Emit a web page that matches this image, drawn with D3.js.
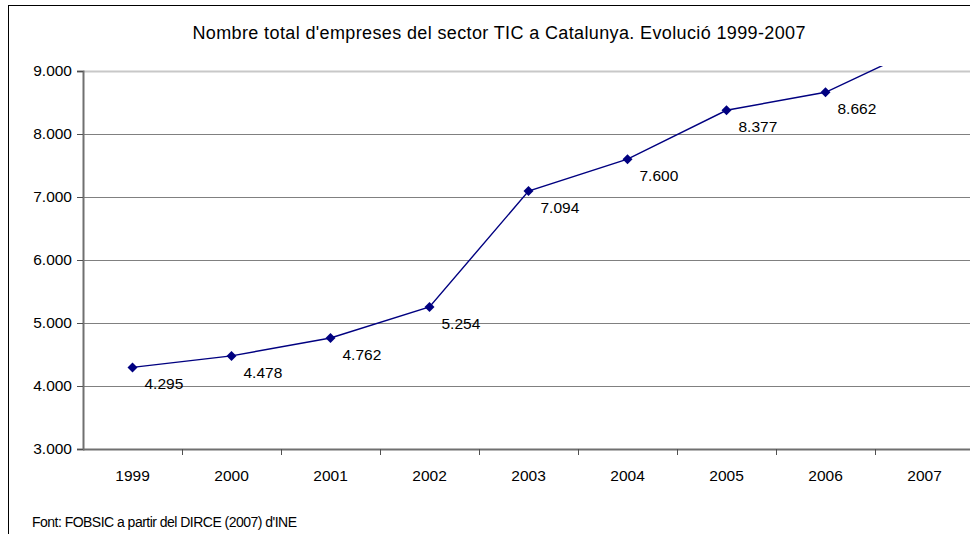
<!DOCTYPE html>
<html>
<head>
<meta charset="utf-8">
<script src="https://cdn.jsdelivr.net/npm/d3@7"></script>
<style>
  html, body { margin: 0; padding: 0; background: #fff; }
  svg { display: block; font-family: "Liberation Sans", Arial, sans-serif; }
</style>
</head>
<body>
<div class="chart"></div>
<script>
// data
const years = ['1999', '2000', '2001', '2002', '2003', '2004', '2005', '2006', '2007']
const empreses = [4295, 4478, 4762, 5254, 7094, 7600, 8377, 8662, 9400]
const yTicks = [3000, 4000, 5000, 6000, 7000, 8000, 9000]
const title = "Nombre total d'empreses del sector TIC a Catalunya. Evolució 1999-2007"
const font = "Font: FOBSIC a partir del DIRCE (2007) d'INE"

const width = 970, height = 534
const plot = {left: 83, right: 974, top: 71, bottom: 449}
const FF = '"Liberation Sans", Arial, sans-serif'

const loc = d3.formatLocale({decimal: ',', thousands: '.', grouping: [3], currency: ['', '']})
const fmt = loc.format(',')

const svg = d3.select('.chart')
  .append('svg')
    .attr('width', width)
    .attr('height', height)

// outer frame (only left and top edges are visible in the crop)
svg.append('rect')
  .attr('x', 8.5).attr('y', 5.5)
  .attr('width', width + 20).attr('height', height + 20)
  .style('fill', 'none')
  .style('stroke', '#000')

const x = d3.scaleBand()
  .domain(years)
  .range([plot.left, plot.right])

const y = d3.scaleLinear()
  .domain([3000, 9000])
  .range([plot.bottom, plot.top])

// gridlines
svg.append('g')
  .selectAll('line')
  .data(yTicks.filter(d => d > 3000))
  .enter()
  .append('line')
    .attr('x1', plot.left)
    .attr('x2', width)
    .attr('y1', d => Math.round(y(d)) + 0.5)
    .attr('y2', d => Math.round(y(d)) + 0.5)
    .style('stroke', d => d === 9000 ? '#c8c8c8' : '#808080')
    .style('stroke-width', d => d === 9000 ? 2 : 1.2)

// y axis
const yAxis = svg.append('g')
  .attr('transform', 'translate(' + plot.left + ',0)')
  .call(d3.axisLeft(y).tickValues(yTicks).tickFormat(fmt).tickSize(6).tickPadding(5))
yAxis.select('.domain').style('stroke', '#707070').style('stroke-width', 2)
yAxis.selectAll('.tick line').style('stroke', '#505050')
yAxis.selectAll('.tick text')
  .style('font-size', '15.5px')
  .style('fill', '#000')
  .style('font-family', FF)

// x axis
const xAxis = svg.append('g')
  .attr('transform', 'translate(0,' + plot.bottom + ')')
  .call(d3.axisBottom(x).tickSize(0).tickPadding(21))
xAxis.select('.domain').remove()
xAxis.selectAll('.tick text')
  .style('font-size', '15.5px')
  .style('fill', '#000')
  .style('font-family', FF)
xAxis.append('line')
  .attr('x1', plot.left).attr('x2', width)
  .attr('y1', 0.5).attr('y2', 0.5)
  .style('stroke', '#707070')
  .style('stroke-width', 2)
xAxis.selectAll('.bound')
  .data(years.slice(1))
  .enter()
  .append('line')
    .attr('class', 'bound')
    .attr('x1', d => Math.round(x(d)) + 0.5)
    .attr('x2', d => Math.round(x(d)) + 0.5)
    .attr('y1', 0)
    .attr('y2', 6)
    .style('stroke', '#505050')

// series, clipped a little above the top of the plot area
svg.append('clipPath')
  .attr('id', 'clip')
  .append('rect')
    .attr('x', plot.left)
    .attr('y', plot.top - 5)
    .attr('width', width - plot.left)
    .attr('height', plot.bottom - plot.top + 5)

const pts = years.map((d, i) => ({year: d, v: empreses[i]}))
const cx = d => x(d.year) + x.bandwidth() / 2

const series = svg.append('g').attr('clip-path', 'url(#clip)')

series.append('path')
  .datum(pts)
  .attr('d', d3.line().x(cx).y(d => y(d.v)))
  .style('fill', 'none')
  .style('stroke', '#000080')
  .style('stroke-width', 1.4)

series.selectAll('.pt')
  .data(pts)
  .enter()
  .append('path')
    .attr('class', 'pt')
    .attr('d', d3.symbol().type(d3.symbolDiamond2).size(64))
    .attr('transform', d => 'translate(' + cx(d) + ',' + y(d.v) + ')')
    .style('fill', '#000080')

// labels only for points inside the value axis
svg.selectAll('.lbl')
  .data(pts.filter(d => d.v <= 9000))
  .enter()
  .append('text')
    .attr('class', 'lbl')
    .attr('x', d => cx(d) + 12)
    .attr('y', d => y(d.v) + 22)
    .style('font-size', '15.5px')
    .style('fill', '#000')
    .text(d => fmt(d.v))

// title and source
svg.append('text')
  .attr('x', 499)
  .attr('y', 39)
  .attr('text-anchor', 'middle')
  .attr('textLength', 613)
  .style('font-size', '18px')
  .style('fill', '#000')
  .text(title)

svg.append('text')
  .attr('x', 32)
  .attr('y', 527)
  .attr('textLength', 265)
  .style('font-size', '14px')
  .style('fill', '#000')
  .text(font)
</script>
</body>
</html>
